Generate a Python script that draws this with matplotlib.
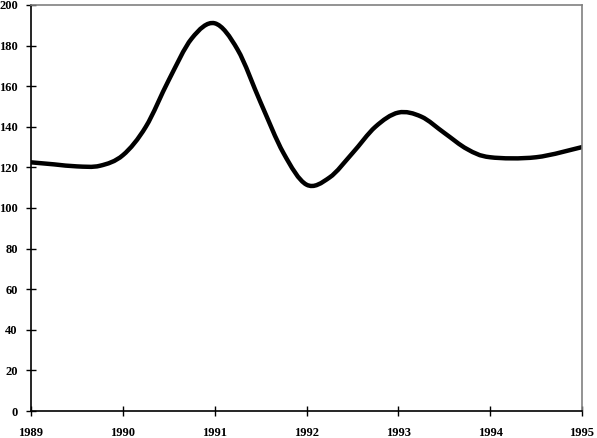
import matplotlib
matplotlib.use("Agg")
import matplotlib.pyplot as plt
from matplotlib.path import Path
from matplotlib.patches import PathPatch
import numpy as np

years = [1989.0, 1989.25, 1989.5, 1989.75, 1990.0, 1990.25, 1990.5, 1990.75,
         1991.0, 1991.25, 1991.5, 1991.75, 1992.0, 1992.25, 1992.5, 1992.75,
         1993.0, 1993.25, 1993.5, 1993.75, 1994.0, 1994.5, 1995.0]
values = [122.5, 121.5, 120.5, 120.8, 126.0, 140.0, 163.0, 183.5,
          191.0, 178.0, 152.0, 127.0, 111.5, 115.0, 127.0, 140.0,
          147.0, 145.0, 137.0, 129.0, 125.0, 125.0, 130.0]
x_ticks = [1989, 1990, 1991, 1992, 1993, 1994, 1995]
y_ticks = [0, 20, 40, 60, 80, 100, 120, 140, 160, 180, 200]

fig = plt.figure(figsize=(5.97, 4.38), dpi=100)
ax = fig.add_axes([31/597, 27/438, 551/597, 406/438])

# smoothed line (Catmull-Rom style Bezier, like spreadsheet smoothing)
P = np.column_stack([years, values])
verts = [tuple(P[0])]
codes = [Path.MOVETO]
n = len(P)
for i in range(n - 1):
    p0 = P[i - 1] if i > 0 else P[i]
    p1 = P[i]
    p2 = P[i + 1]
    p3 = P[i + 2] if i + 2 < n else P[i + 1]
    c1 = p1 + (p2 - p0) / 6.0
    c2 = p2 - (p3 - p1) / 6.0
    verts += [tuple(c1), tuple(c2), tuple(p2)]
    codes += [Path.CURVE4] * 3
patch = PathPatch(Path(verts, codes), facecolor="none", edgecolor="black",
                  lw=3.2, capstyle="round", joinstyle="round", clip_on=True)
ax.add_patch(patch)

ax.set_xlim(1989, 1995)
ax.set_ylim(0, 200)
ax.set_xticks(x_ticks)
ax.set_yticks(y_ticks)
ax.set_xticklabels([str(t) for t in x_ticks])
ax.set_yticklabels([str(t) for t in y_ticks])

for lab in ax.get_xticklabels() + ax.get_yticklabels():
    lab.set_fontfamily("Liberation Serif")
    lab.set_fontweight("bold")
    lab.set_fontsize(9)

ax.tick_params(axis="both", direction="inout", length=7, width=1, colors="black")
ax.tick_params(axis="x", pad=8)
ax.tick_params(axis="y", pad=6)
ax.tick_params(top=False, right=False)
ax.spines["left"].set_color("black")
ax.spines["bottom"].set_color("black")
ax.spines["left"].set_linewidth(1.2)
ax.spines["bottom"].set_linewidth(1.2)
ax.spines["top"].set_color("#808080")
ax.spines["right"].set_color("#808080")
ax.spines["top"].set_linewidth(1.2)
ax.spines["right"].set_linewidth(1.2)

fig.savefig("out.png", dpi=100)
